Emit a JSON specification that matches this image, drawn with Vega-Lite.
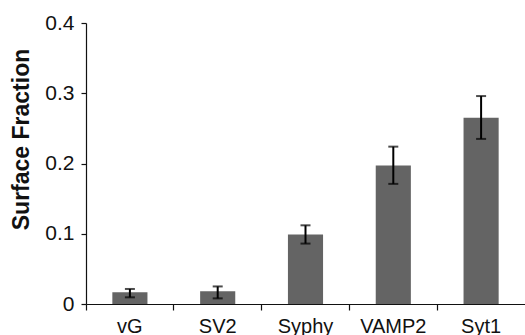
{
  "$schema": "https://vega.github.io/schema/vega-lite/v6.json",
  "width": 439,
  "height": 281,
  "autosize": {"type": "none"},
  "padding": {"left": 86, "top": 23, "right": 0, "bottom": 31},
  "background": "white",
  "config": {
    "view": {"stroke": null},
    "font": "Liberation Sans",
    "axis": {"labelFont": "Liberation Sans", "titleFont": "Liberation Sans", "labelColor": "#111", "titleColor": "#111", "domainColor": "#111", "tickColor": "#111", "grid": false}
  },
  "data": {
    "values": [
      {"protein": "vG", "mean": 0.0167, "lo": 0.0095, "hi": 0.0214},
      {"protein": "SV2", "mean": 0.018, "lo": 0.008, "hi": 0.025},
      {"protein": "Syphy", "mean": 0.099, "lo": 0.086, "hi": 0.112},
      {"protein": "VAMP2", "mean": 0.197, "lo": 0.171, "hi": 0.224},
      {"protein": "Syt1", "mean": 0.265, "lo": 0.235, "hi": 0.296}
    ]
  },
  "encoding": {
    "x": {
      "field": "protein", "type": "nominal", "sort": null,
      "scale": {"paddingInner": 0, "paddingOuter": 0},
      "axis": {"title": null, "labelAngle": 0, "labelFontSize": 20, "labelPadding": 6, "tickSize": 6, "bandPosition": 0, "domainWidth": 1.2, "tickWidth": 1.2}
    }
  },
  "layer": [
    {
      "mark": {"type": "bar", "color": "#646464", "width": {"band": 0.4}},
      "encoding": {
        "y": {
          "field": "mean", "type": "quantitative",
          "scale": {"domain": [0, 0.4], "nice": false},
          "axis": {"title": "Surface Fraction", "titleFontSize": 23, "titleFontWeight": "bold", "titleBaseline": "alphabetic", "titleX": -58, "titleY": 116, "titleAngle": -90, "values": [0, 0.1, 0.2, 0.3, 0.4], "format": ".1~f", "labelFontSize": 21, "labelPadding": 7, "tickSize": 5, "domainWidth": 1.2, "tickWidth": 1.2}
        }
      }
    },
    {
      "mark": {"type": "rule", "color": "black", "strokeWidth": 2},
      "encoding": {
        "y": {"field": "lo", "type": "quantitative"},
        "y2": {"field": "hi"}
      }
    },
    {
      "mark": {"type": "tick", "color": "black", "size": 10, "thickness": 2},
      "encoding": {"y": {"field": "lo", "type": "quantitative"}}
    },
    {
      "mark": {"type": "tick", "color": "black", "size": 10, "thickness": 2},
      "encoding": {"y": {"field": "hi", "type": "quantitative"}}
    }
  ]
}
